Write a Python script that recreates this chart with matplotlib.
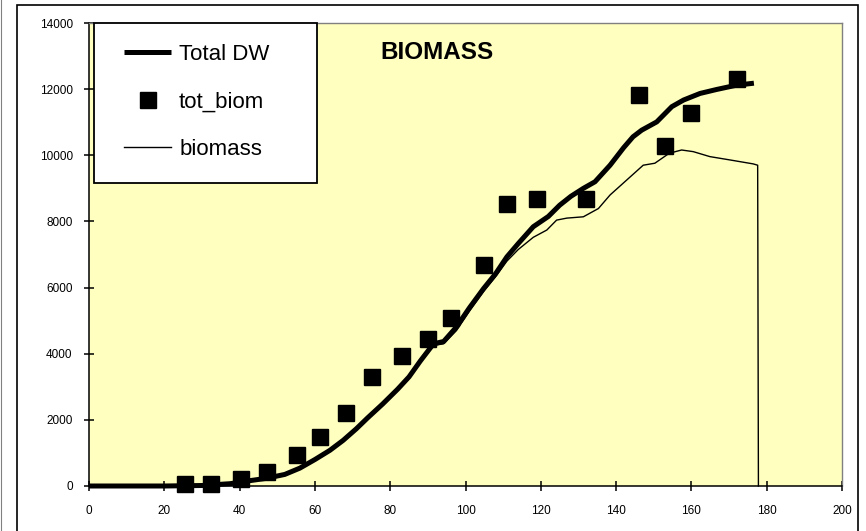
import matplotlib
matplotlib.use("Agg")
import matplotlib.pyplot as plt
from matplotlib.patches import Rectangle
from matplotlib.lines import Line2D

plt.rcParams['font.family'] = ['Liberation Sans', 'DejaVu Sans']

# Simulated total dry weight (kg/ha) against day
dw_day = [0, 20, 30, 37.5, 42, 47, 52, 56, 60, 64, 67.5, 71, 74, 78, 82, 85, 88,
          91.5, 94.2, 97.6, 101, 104.8, 108, 111, 114, 118, 122, 125, 128, 131.3,
          134.4, 138.4, 142, 144.5, 146.8, 150.8, 154.8, 157.9, 162.3, 166.7, 172, 176.6]
dw_val = [0, 0, 15, 70, 150, 230, 350, 540, 800, 1080, 1380, 1730, 2060, 2480, 2930,
          3300, 3780, 4300, 4370, 4810, 5380, 5970, 6420, 6930, 7330, 7840, 8150, 8490,
          8760, 9000, 9200, 9700, 10230, 10560, 10760, 11010, 11470, 11670, 11870,
          11990, 12120, 12180]

# Simulated above-ground biomass
bio_day = [0, 20, 30, 37.5, 42, 47, 52, 56, 60, 64, 67.5, 71, 74, 78, 82, 85, 88,
           91.5, 94.2, 97.6, 101, 104.8, 108, 111, 114, 118, 121.6, 124.2, 126.9,
           131.3, 135.3, 138.4, 142.8, 147.2, 150.3, 154.1, 157.4, 160.5, 164.9,
           170.2, 176.4, 177.6, 177.8]
bio_val = [0, 0, 15, 70, 150, 230, 350, 540, 800, 1080, 1380, 1730, 2060, 2480, 2930,
           3300, 3780, 4250, 4300, 4700, 5280, 5880, 6330, 6800, 7150, 7520, 7740,
           8040, 8100, 8140, 8390, 8800, 9250, 9700, 9760, 10060, 10160, 10110, 9960,
           9860, 9740, 9700, 0]

# Measured total biomass
obs_day = [25.5, 32.4, 40.3, 47.2, 55.2, 61.3, 68.2, 75.2, 83.1, 90, 96.1, 104.9,
           110.9, 118.9, 132, 146.1, 153, 160, 172.1]
obs_val = [50, 50, 220, 430, 930, 1480, 2210, 3290, 3930, 4440, 5080, 6680,
           8530, 8670, 8680, 11830, 10290, 11290, 12310]

x_ticks = [0, 20, 40, 60, 80, 100, 120, 140, 160, 180, 200]
y_ticks = [0, 2000, 4000, 6000, 8000, 10000, 12000, 14000]

W, H = 866, 531
fig = plt.figure(figsize=(W / 100, H / 100), dpi=100)
fig.patch.set_facecolor('white')

# outer chart frame
fig.add_artist(Rectangle((17 / W, -0.05), (858 - 17) / W, 1.05 - 5 / H,
                         transform=fig.transFigure, fill=False,
                         edgecolor='black', linewidth=1.2))
fig.add_artist(Line2D([0.6 / W, 0.6 / W], [0, 1], transform=fig.transFigure,
                      color='#808080', linewidth=0.8))

ax = fig.add_axes([89 / W, 45 / H, (842 - 89) / W, (486 - 23) / H])
ax.set_facecolor('#FFFFC0')

ax.plot(dw_day, dw_val, color='black', linewidth=3.6, solid_capstyle='butt',
        label='Total DW', clip_on=False, zorder=3)
ax.plot(obs_day, obs_val, linestyle='none', marker='s', markersize=11,
        color='black', label='tot_biom', clip_on=False, zorder=4)
ax.plot(bio_day, bio_val, color='black', linewidth=1.0, label='biomass',
        clip_on=False, zorder=3)

ax.set_xlim(0, 200)
ax.set_ylim(0, 14000)
ax.set_xticks(x_ticks)
ax.set_yticks(y_ticks)
ax.set_xticklabels([str(v) for v in x_ticks])
ax.set_yticklabels([str(v) for v in y_ticks])
ax.tick_params(axis='both', direction='inout', length=7.5, width=1.1,
               labelsize=8.5, colors='black')
ax.tick_params(axis='x', pad=10)
ax.tick_params(axis='y', pad=8)

for side in ('left', 'bottom'):
    ax.spines[side].set_color('black')
    ax.spines[side].set_linewidth(1.1)
for side in ('top', 'right'):
    ax.spines[side].set_color('#808080')
    ax.spines[side].set_linewidth(1.0)

ax.text(0.4615, 0.937, 'BIOMASS', transform=ax.transAxes, ha='center',
        va='center', fontsize=17.5, fontweight='bold')

# legend box
ax.add_patch(Rectangle((5 / 753, (486 - 183) / 463), (317 - 94) / 753,
                       (183 - 23) / 463, transform=ax.transAxes,
                       facecolor='white', edgecolor='black', linewidth=1.3,
                       zorder=6, clip_on=False))
leg = ax.legend(loc='center left', bbox_to_anchor=((124 - 89) / 753, (486 - 102) / 463),
                frameon=False, fontsize=16, borderpad=0, borderaxespad=0,
                handlelength=2.12, handletextpad=0.36, labelspacing=1.2,
                numpoints=1)
leg.set_zorder(7)

fig.savefig('out.png', dpi=100)
